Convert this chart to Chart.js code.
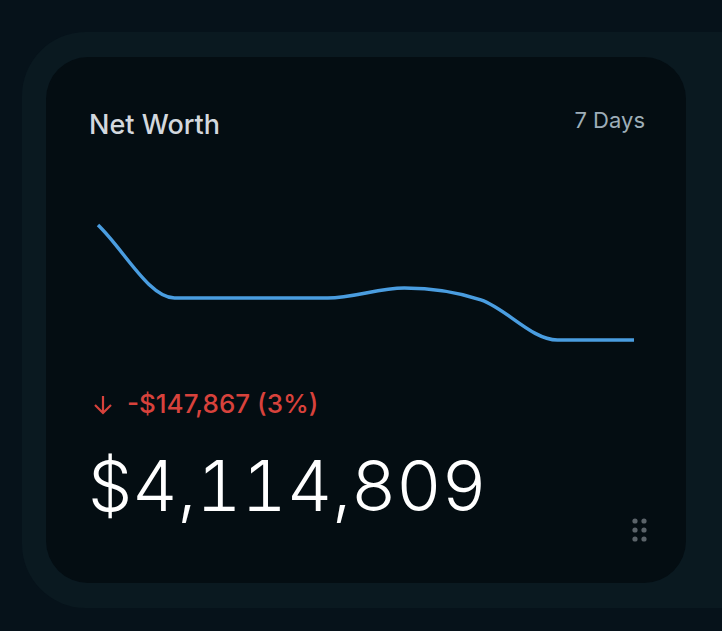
<!DOCTYPE html>
<html>
<head>
<meta charset="utf-8">
<script src="https://cdn.jsdelivr.net/npm/chart.js@4"></script>
<style>
  html, body { margin: 0; padding: 0; }
  body { width: 722px; height: 631px; background: #06121a; position: relative; overflow: hidden; font-family: Inter, "Noto Sans", sans-serif; }
  .panel { position: absolute; left: 22px; top: 32px; width: 760px; height: 576px; background: #0a1920; border-radius: 64px; }
  .card { position: absolute; left: 46px; top: 57px; width: 640px; height: 526px; background: #040d12; border-radius: 42px; }
  .title { position: absolute; left: 89px; top: 109px; font-size: 27px; font-weight: 500; color: #d3d8de; line-height: 1.21; }
  .range { position: absolute; right: 77px; top: 107px; font-size: 22px; color: #9eaeb8; line-height: 1.21; }
  .chartbox { position: absolute; left: 92px; top: 215px; width: 548px; height: 135px; }
  .delta { position: absolute; left: 92px; top: 388px; font-size: 26px; font-weight: 500; color: #d8423c; white-space: nowrap; line-height: 1.21; }
  .delta svg { vertical-align: -3px; margin-right: 13px; }
  .value { position: absolute; left: 88px; top: 444px; font-size: 70px; font-weight: 300; color: #ffffff; line-height: 1.21; font-feature-settings: "tnum"; }
  .grip { position: absolute; left: 630px; top: 517px; }
</style>
</head>
<body>
<div class="panel"></div>
<div class="card"></div>
<div class="title">Net Worth</div>
<div class="range">7 Days</div>
<div class="chartbox"><canvas id="netChart" width="548" height="135"></canvas></div>
<div class="delta"><svg width="22" height="22" viewBox="0 0 22 22"><path d="M11 2 V19 M3 11 L11 19 L19 11" stroke="#d8423c" stroke-width="2.2" fill="none"/></svg>-$147,867 (3%)</div>
<div class="value">$4,114,809</div>
<svg class="grip" width="20" height="30">
  <circle cx="5" cy="4" r="2.6" fill="#5b6369"/><circle cx="14" cy="4" r="2.6" fill="#5b6369"/>
  <circle cx="5" cy="13" r="2.6" fill="#5b6369"/><circle cx="14" cy="13" r="2.6" fill="#5b6369"/>
  <circle cx="5" cy="22" r="2.6" fill="#5b6369"/><circle cx="14" cy="22" r="2.6" fill="#5b6369"/>
</svg>
<script>
// 7 day net worth history
const days = ['D0', 'D1', 'D2', 'D3', 'D4', 'D5', 'D6', 'D7'];
const netWorth = [4262676, 4168900, 4168900, 4168900, 4181700, 4166300, 4114809, 4114809];

const ctx = document.getElementById('netChart').getContext('2d');
new Chart(ctx, {
    type: 'line',
    data: {
        labels: days,
        datasets: [{
            data: netWorth,
            borderColor: '#4a9de0',
            borderWidth: 3.5,
            pointRadius: 0,
            fill: false,
            clip: false,
            cubicInterpolationMode: 'monotone'
        }]
    },
    options: {
        responsive: false,
        animation: false,
        maintainAspectRatio: false,
        layout: { padding: { left: 6, right: 6, top: 10, bottom: 10 } },
        plugins: { legend: { display: false }, tooltip: { enabled: false } },
        scales: {
            x: { display: false },
            y: { display: false, min: Math.min(...netWorth), max: Math.max(...netWorth) }
        }
    }
});
</script>
</body>
</html>
